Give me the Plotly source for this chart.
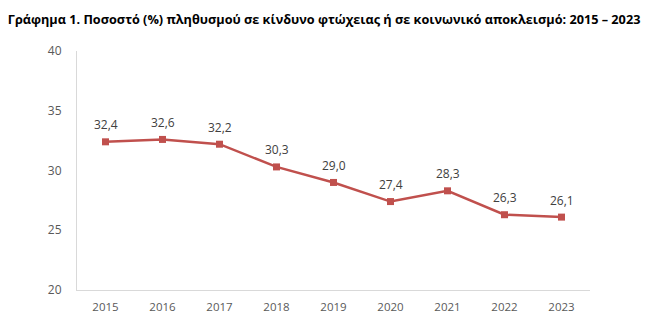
import plotly.graph_objects as go

years = ["2015", "2016", "2017", "2018", "2019", "2020", "2021", "2022", "2023"]
values = [32.4, 32.6, 32.2, 30.3, 29.0, 27.4, 28.3, 26.3, 26.1]
labels = [f"{v:.1f}".replace(".", ",") for v in values]
title = "Γράφημα 1. Ποσοστό (%) πληθυσμού σε κίνδυνο φτώχειας ή σε κοινωνικό αποκλεισμό: 2015 – 2023"

fig = go.Figure()
fig.add_trace(go.Scatter(
    x=years, y=values, mode="lines+markers",
    line=dict(color="#C0504D", width=2.5),
    marker=dict(symbol="square", size=7, color="#C0504D"),
    cliponaxis=False,
))
for i, (v, lab) in enumerate(zip(values, labels)):
    fig.add_annotation(x=i, y=v, xref="x", yref="y", text=lab, showarrow=False, yshift=17,
                       font=dict(size=12, color="#404040", family="Open Sans"))

fig.update_layout(
    width=650, height=329,
    margin=dict(l=77, r=60, t=51, b=39),
    paper_bgcolor="white", plot_bgcolor="white",
    showlegend=False,
    title=dict(text="<b>" + title + "</b>", x=0.012, xanchor="left", y=0.94, yanchor="middle",
               font=dict(size=12.7, color="black", family="Open Sans")),
    xaxis=dict(type="category", range=[-0.5, 8.5], showline=True, linecolor="#D9D9D9", linewidth=1,
               showgrid=False, ticks="", tickfont=dict(size=11.5, color="#595959", family="Open Sans")),
    yaxis=dict(range=[20, 40], dtick=5, showline=True, linecolor="#D9D9D9", linewidth=1,
               showgrid=False, zeroline=False, ticks="", ticklen=0,
               tickfont=dict(size=12, color="#595959", family="Open Sans")),
)
fig.update_yaxes(ticklabelstandoff=12)
fig.update_xaxes(ticklabelstandoff=6)
fig.write_html("out.html")
